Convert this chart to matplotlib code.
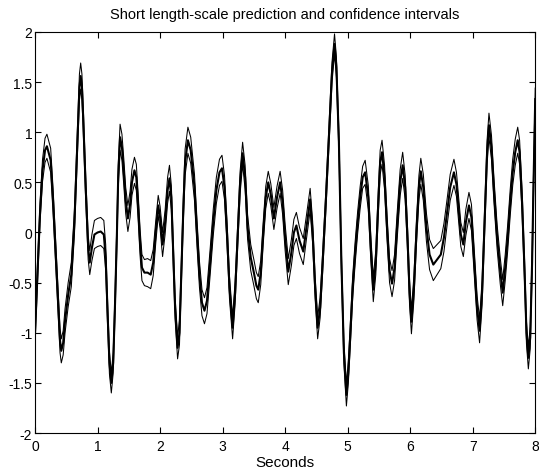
import matplotlib
matplotlib.use("Agg")
import matplotlib.pyplot as plt
import numpy as np

plt.rcParams['font.family'] = ['Liberation Sans', 'DejaVu Sans']

# time (s), predicted mean, half width of confidence band
t = [0.00, 0.04, 0.08, 0.12, 0.16, 0.19, 0.25, 0.29, 0.33, 0.37, 0.40, 0.42,
     0.45, 0.48, 0.53, 0.58, 0.63, 0.68, 0.71, 0.73, 0.75, 0.77, 0.81, 0.85,
     0.875, 0.91, 0.95, 1.00, 1.05, 1.10, 1.13, 1.16, 1.19, 1.22, 1.25, 1.28,
     1.31, 1.33, 1.36, 1.39, 1.42, 1.45, 1.485, 1.52, 1.55, 1.59, 1.62, 1.65,
     1.68, 1.71, 1.75, 1.80, 1.85, 1.89, 1.93, 1.97, 2.00, 2.04, 2.08, 2.12,
     2.15, 2.18, 2.21, 2.24, 2.28, 2.31, 2.34, 2.37, 2.40, 2.445, 2.49, 2.55,
     2.59, 2.63, 2.67, 2.71, 2.75, 2.80, 2.85, 2.90, 2.95, 2.99, 3.03, 3.07,
     3.11, 3.16, 3.20, 3.24, 3.28, 3.32, 3.36, 3.40, 3.45, 3.50, 3.54, 3.57,
     3.61, 3.65, 3.69, 3.73, 3.77, 3.82, 3.87, 3.92, 3.96, 4.00, 4.05, 4.10,
     4.14, 4.18, 4.23, 4.29, 4.34, 4.40, 4.44, 4.48, 4.52, 4.56, 4.60, 4.65,
     4.70, 4.75, 4.79, 4.82, 4.86, 4.90, 4.94, 4.98, 5.01, 5.04, 5.08, 5.12,
     5.16, 5.20, 5.24, 5.28, 5.33, 5.37, 5.41, 5.45, 5.49, 5.52, 5.55, 5.59,
     5.63, 5.67, 5.71, 5.75, 5.79, 5.84, 5.88, 5.92, 5.96, 5.99, 6.02, 6.06,
     6.10, 6.14, 6.17, 6.21, 6.26, 6.31, 6.37, 6.43, 6.49, 6.54, 6.59, 6.64,
     6.70, 6.74, 6.78, 6.81, 6.85, 6.89, 6.94, 6.98, 7.02, 7.07, 7.11, 7.15,
     7.19, 7.23, 7.26, 7.30, 7.34, 7.39, 7.44, 7.48, 7.52, 7.56, 7.60, 7.64,
     7.68, 7.72, 7.75, 7.79, 7.83, 7.86, 7.89, 7.92, 7.95, 7.97, 8.00]

mean = [-1.00, -0.40, 0.20, 0.62, 0.82, 0.86, 0.72, 0.30, -0.20, -0.70, -1.08, -1.18,
        -1.10, -0.88, -0.62, -0.42, 0.10, 0.95, 1.45, 1.56, 1.45, 1.15, 0.45, -0.15,
        -0.30, -0.15, -0.02, 0.00, 0.01, -0.02, -0.25, -0.80, -1.30, -1.50, -1.30, -0.70,
        0.00, 0.55, 0.95, 0.85, 0.60, 0.32, 0.14, 0.28, 0.50, 0.62, 0.55, 0.25,
        -0.10, -0.35, -0.40, -0.40, -0.42, -0.30, 0.00, 0.27, 0.15, -0.12, 0.10, 0.42,
        0.54, 0.35, -0.20, -0.75, -1.15, -1.00, -0.40, 0.20, 0.70, 0.92, 0.82, 0.45,
        0.00, -0.42, -0.70, -0.78, -0.68, -0.30, 0.10, 0.42, 0.60, 0.64, 0.45, 0.00,
        -0.55, -0.95, -0.60, -0.05, 0.50, 0.79, 0.55, 0.05, -0.25, -0.40, -0.53, -0.57,
        -0.40, 0.00, 0.35, 0.50, 0.38, 0.14, 0.35, 0.50, 0.30, -0.05, -0.39, -0.20,
        0.00, 0.07, -0.08, -0.19, 0.05, 0.33, 0.00, -0.55, -0.95, -0.75, -0.30, 0.30,
        0.95, 1.60, 1.88, 1.65, 0.90, -0.30, -1.20, -1.62, -1.40, -1.05, -0.55, -0.20,
        0.10, 0.35, 0.55, 0.60, 0.35, -0.15, -0.57, -0.30, 0.30, 0.70, 0.80, 0.55,
        0.05, -0.38, -0.51, -0.35, 0.05, 0.50, 0.67, 0.45, -0.10, -0.60, -0.89, -0.55,
        0.00, 0.45, 0.61, 0.45, 0.05, -0.22, -0.32, -0.27, -0.22, -0.05, 0.20, 0.45,
        0.60, 0.48, 0.20, -0.02, -0.12, 0.10, 0.27, 0.15, -0.25, -0.75, -0.98, -0.60,
        0.10, 0.80, 1.07, 0.85, 0.42, -0.04, -0.38, -0.60, -0.35, -0.05, 0.30, 0.60,
        0.80, 0.92, 0.80, 0.30, -0.40, -1.00, -1.25, -1.05, -0.30, 0.40, 1.33]

band = [0.10, 0.10, 0.10, 0.11, 0.12, 0.12, 0.12, 0.12, 0.12, 0.12, 0.12, 0.12,
        0.12, 0.12, 0.12, 0.12, 0.12, 0.12, 0.13, 0.13, 0.13, 0.12, 0.12, 0.12,
        0.12, 0.13, 0.14, 0.14, 0.14, 0.14, 0.13, 0.12, 0.11, 0.10, 0.10, 0.11,
        0.12, 0.12, 0.13, 0.13, 0.13, 0.13, 0.13, 0.13, 0.13, 0.13, 0.13, 0.13,
        0.13, 0.13, 0.13, 0.14, 0.14, 0.13, 0.11, 0.10, 0.11, 0.12, 0.12, 0.13,
        0.13, 0.12, 0.11, 0.11, 0.11, 0.12, 0.12, 0.12, 0.13, 0.13, 0.13, 0.13,
        0.13, 0.13, 0.13, 0.13, 0.13, 0.13, 0.13, 0.13, 0.13, 0.13, 0.12, 0.12,
        0.11, 0.11, 0.11, 0.11, 0.11, 0.11, 0.12, 0.12, 0.13, 0.13, 0.13, 0.13,
        0.12, 0.11, 0.11, 0.11, 0.11, 0.11, 0.11, 0.11, 0.12, 0.13, 0.13, 0.13,
        0.13, 0.13, 0.13, 0.13, 0.12, 0.11, 0.11, 0.11, 0.11, 0.10, 0.10, 0.10,
        0.10, 0.10, 0.10, 0.10, 0.10, 0.10, 0.11, 0.11, 0.11, 0.11, 0.11, 0.11,
        0.11, 0.11, 0.11, 0.12, 0.12, 0.12, 0.12, 0.12, 0.12, 0.12, 0.12, 0.12,
        0.12, 0.12, 0.13, 0.13, 0.13, 0.13, 0.13, 0.12, 0.12, 0.12, 0.12, 0.12,
        0.12, 0.12, 0.13, 0.13, 0.14, 0.15, 0.16, 0.15, 0.14, 0.14, 0.13, 0.13,
        0.13, 0.12, 0.12, 0.12, 0.12, 0.13, 0.13, 0.13, 0.12, 0.12, 0.12, 0.12,
        0.12, 0.12, 0.12, 0.12, 0.12, 0.12, 0.13, 0.13, 0.13, 0.13, 0.13, 0.13,
        0.13, 0.13, 0.12, 0.12, 0.11, 0.11, 0.11, 0.11, 0.11, 0.11, 0.11]

t = np.array(t)
mean = np.array(mean)
band = np.array(band)

fig = plt.figure(figsize=(5.39, 4.77), dpi=100)
ax = fig.add_axes([0.065, 0.090, 0.928, 0.841])

ax.plot(t, mean + band, color='black', lw=0.75)
ax.plot(t, mean - band, color='black', lw=0.75)
ax.plot(t, mean, color='black', lw=1.5)

ax.set_xlim(0, 8)
ax.set_ylim(-2, 2)
ax.set_xticks(range(0, 9))
ax.set_yticks([-2, -1.5, -1, -0.5, 0, 0.5, 1, 1.5, 2])
ax.set_yticklabels(['-2', '-1.5', '-1', '-0.5', '0', '0.5', '1', '1.5', '2'])
ax.tick_params(direction='in', top=True, right=True, labelsize=10, length=4, pad=2)
ax.tick_params(axis='x', pad=4)
for s in ax.spines.values():
    s.set_linewidth(0.8)

ax.set_title('Short length-scale prediction and confidence intervals', fontsize=10.5, pad=10)
ax.set_xlabel('Seconds', fontsize=11, labelpad=2)

fig.savefig('out.png', dpi=100)
